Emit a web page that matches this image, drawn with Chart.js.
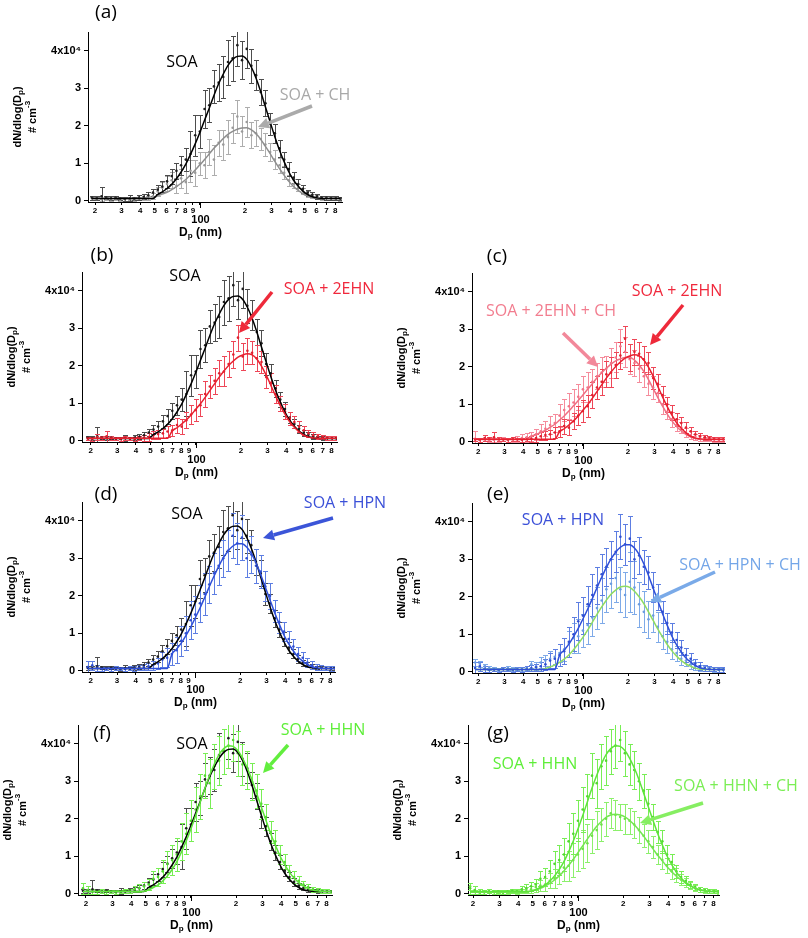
<!DOCTYPE html>
<html>
<head>
<meta charset="utf-8">
<script src="https://cdn.jsdelivr.net/npm/chart.js@4.4.1/dist/chart.umd.min.js"></script>
<style>
  body { margin: 0; background: #fff; width: 808px; height: 938px; overflow: hidden; position: relative; }
  .wrap { position: absolute; }
  canvas { display: block; }
</style>
</head>
<body>
<div class="wrap"><canvas id="ca"></canvas></div>
<div class="wrap"><canvas id="cb"></canvas></div>
<div class="wrap"><canvas id="cc"></canvas></div>
<div class="wrap"><canvas id="cd"></canvas></div>
<div class="wrap"><canvas id="ce"></canvas></div>
<div class="wrap"><canvas id="cf"></canvas></div>
<div class="wrap"><canvas id="cg"></canvas></div>
<script>
// particle diameter bins, nm
var diameters = [19.1,20.5,22.1,23.7,25.5,27.4,29.4,31.6,34.0,36.5,39.2,42.2,45.3,48.7,52.3,56.2,60.4,64.9,69.8,75.0,
  80.6,86.6,93.1,100,107.5,115.5,124.1,133.4,143.3,154.0,165.5,177.8,191.1,205.4,220.7,237.1,254.8,273.8,294.3,316.2,
  339.8,365.2,392.4,421.7,453.2,487.0,523.3,562.3,604.3,649.4,697.9,749.9,805.9,866.0];

var xTickValues = [20,30,40,50,60,70,80,90,100,200,300,400,500,600,700,800];
var yTickValues = [0,1,2,3,4];
var yTickLabels = ['0','1','2','3','4x10\u2074'];

// dN/dlog(Dp) in units of 1e4 cm-3
var soaVal = [0.08,0.07,0.12,0.09,0.07,0.08,0.06,0.05,0.07,0.06,
  0.09,0.11,0.15,0.22,0.30,0.38,0.52,0.66,0.80,0.95,
  1.10,1.25,1.75,1.85,2.45,2.55,3.05,3.15,3.30,3.70,
  3.80,4.15,3.75,4.05,3.60,3.35,2.90,2.60,2.05,1.80,
  1.40,1.10,0.85,0.62,0.45,0.32,0.22,0.16,0.12,0.09,
  0.08,0.07,0.07,0.06];
var soaErr = [0.05,0.05,0.25,0.05,0.05,0.04,0.04,0.05,0.08,0.05,
  0.06,0.07,0.08,0.10,0.12,0.15,0.18,0.20,0.22,0.25,
  0.30,0.60,0.55,0.45,0.50,0.45,0.45,0.50,0.55,0.60,
  0.60,0.55,0.50,0.50,0.45,0.40,0.35,0.35,0.30,0.25,
  0.22,0.20,0.18,0.15,0.12,0.10,0.08,0.07,0.06,0.05,
  0.05,0.05,0.05,0.05];
var soaFit = [0.06,0.06,0.06,0.06,0.06,0.06,0.06,0.06,0.06,0.06,0.06,0.06,0.06,0.06,
  0.17,0.24,0.33,0.44,0.59,0.77,0.98,1.24,1.52,1.82,
  2.15,2.47,2.81,3.12,3.38,3.61,3.77,3.85,3.86,3.77,
  3.56,3.27,2.91,2.50,2.10,1.71,1.35,1.04,0.77,0.55,
  0.39,0.26,0.17,0.11,0.08,0.07,0.06,0.06,0.06,0.06];

var chVal = [0.06,0.05,0.04,0.05,0.04,0.05,0.03,0.04,0.05,0.04,
  0.06,0.05,0.08,0.12,0.25,0.35,0.45,0.55,0.40,0.60,
  0.50,0.80,0.75,1.00,0.95,1.30,1.10,1.55,1.50,1.70,
  1.95,2.25,1.85,2.10,1.75,1.80,1.65,1.50,1.30,1.10,
  0.95,0.75,0.55,0.45,0.35,0.25,0.18,0.13,0.10,0.08,
  0.07,0.06,0.06,0.05];
var chErr = [0.04,0.04,0.04,0.04,0.04,0.04,0.04,0.04,0.04,0.04,
  0.04,0.04,0.06,0.08,0.12,0.15,0.20,0.22,0.20,0.25,
  0.30,0.30,0.35,0.30,0.35,0.35,0.40,0.35,0.40,0.45,
  0.40,0.45,0.40,0.40,0.35,0.35,0.30,0.30,0.25,0.25,
  0.20,0.18,0.15,0.12,0.10,0.08,0.07,0.05,0.05,0.05,
  0.05,0.05,0.05,0.05];
var chFit = [0.06,0.06,0.06,0.06,0.06,0.06,0.06,0.06,0.06,0.06,0.06,0.06,0.06,0.06,
  0.14,0.18,0.23,0.30,0.38,0.47,0.57,0.69,0.82,0.96,
  1.10,1.25,1.40,1.53,1.66,1.77,1.85,1.91,1.94,1.95,
  1.89,1.79,1.64,1.45,1.26,1.05,0.86,0.68,0.52,0.38,
  0.28,0.19,0.13,0.09,0.07,0.06,0.06,0.06,0.06,0.06];

var ehnVal = [0.06,0.05,0.10,0.08,0.12,0.07,0.06,0.05,0.08,0.06,
  0.05,0.07,0.08,0.10,0.15,0.18,0.20,0.25,0.28,0.42,
  0.38,0.55,0.70,0.82,0.95,1.25,1.45,1.60,1.80,1.85,
  2.05,2.30,2.75,2.25,2.40,2.35,2.20,2.10,1.70,1.55,
  1.25,1.00,0.78,0.60,0.50,0.38,0.28,0.20,0.15,0.12,
  0.10,0.08,0.07,0.07];
var ehnErr = [0.05,0.05,0.08,0.06,0.15,0.05,0.05,0.05,0.06,0.05,
  0.05,0.06,0.08,0.10,0.10,0.12,0.12,0.15,0.15,0.20,
  0.20,0.22,0.25,0.30,0.30,0.35,0.30,0.35,0.35,0.40,
  0.35,0.35,0.35,0.35,0.35,0.30,0.35,0.30,0.30,0.25,
  0.25,0.20,0.20,0.18,0.15,0.15,0.12,0.10,0.08,0.07,
  0.06,0.06,0.05,0.05];
var ehnFit = [0.07,0.07,0.07,0.07,0.07,0.07,0.07,0.07,0.07,0.07,0.07,0.07,0.07,0.07,0.07,0.07,0.07,0.07,
  0.27,0.35,0.45,0.56,0.69,0.84,0.99,1.16,1.34,1.52,
  1.70,1.86,2.01,2.13,2.23,2.29,2.32,2.29,2.18,1.99,
  1.75,1.48,1.20,0.94,0.71,0.51,0.36,0.24,0.15,0.10,
  0.08,0.07,0.07,0.07,0.07,0.07];

var ehnChVal = [0.08,0.05,0.06,0.04,0.05,0.06,0.07,0.05,0.06,0.08,
  0.10,0.12,0.15,0.20,0.28,0.35,0.45,0.50,0.70,0.85,
  0.95,1.05,1.20,1.40,1.45,1.60,1.75,1.85,1.95,2.10,
  2.25,2.55,2.40,2.20,2.10,1.95,1.75,1.55,1.45,1.30,
  1.00,0.80,0.60,0.45,0.38,0.25,0.18,0.14,0.10,0.08,
  0.07,0.06,0.06,0.06];
var ehnChErr = [0.20,0.05,0.05,0.05,0.05,0.06,0.06,0.06,0.07,0.08,
  0.10,0.12,0.12,0.15,0.20,0.20,0.25,0.25,0.30,0.30,
  0.35,0.35,0.35,0.35,0.40,0.35,0.35,0.40,0.35,0.40,
  0.40,0.45,0.40,0.40,0.35,0.35,0.30,0.30,0.30,0.25,
  0.25,0.20,0.20,0.15,0.15,0.12,0.10,0.08,0.07,0.06,
  0.06,0.06,0.06,0.06];
var ehnChFit = [0.06,0.06,0.06,0.06,0.06,0.06,0.06,0.06,0.06,0.06,0.06,0.06,
  0.15,0.19,0.25,0.31,0.39,0.47,0.58,0.69,0.82,0.96,
  1.10,1.25,1.40,1.55,1.71,1.84,1.96,2.07,2.16,2.21,
  2.25,2.25,2.18,2.05,1.88,1.66,1.42,1.18,0.95,0.74,
  0.56,0.41,0.29,0.20,0.13,0.09,0.07,0.06,0.06,0.06,
  0.06,0.06];

var hpnVal = [0.10,0.15,0.08,0.05,0.06,0.05,0.07,0.06,0.05,0.07,
  0.06,0.08,0.10,0.12,0.15,0.20,0.30,0.35,0.45,0.55,
  0.80,1.00,1.35,1.50,1.80,2.05,2.30,2.60,2.80,3.00,
  3.20,3.60,3.40,3.55,3.00,3.10,2.80,2.65,2.25,2.00,
  1.60,1.30,1.05,0.85,0.65,0.45,0.35,0.22,0.15,0.10,
  0.08,0.07,0.06,0.06];
var hpnErr = [0.15,0.12,0.08,0.05,0.05,0.05,0.06,0.05,0.05,0.06,
  0.06,0.07,0.08,0.10,0.12,0.15,0.20,0.25,0.30,0.35,
  0.40,0.45,0.50,0.50,0.50,0.55,0.50,0.55,0.50,0.50,
  0.55,0.60,0.55,0.60,0.50,0.50,0.45,0.45,0.40,0.35,
  0.30,0.28,0.25,0.22,0.20,0.18,0.15,0.12,0.10,0.08,
  0.07,0.06,0.06,0.06];
var hpnFit = [0.06,0.06,0.06,0.06,0.06,0.06,0.06,0.06,0.06,0.06,0.06,0.06,0.06,0.06,0.06,0.06,0.06,0.06,
  0.44,0.58,0.74,0.94,1.16,1.41,1.67,1.95,2.24,2.52,
  2.78,3.01,3.19,3.32,3.39,3.39,3.30,3.13,2.88,2.57,
  2.23,1.89,1.55,1.24,0.95,0.72,0.53,0.37,0.26,0.17,
  0.11,0.08,0.07,0.06,0.06,0.06];

var hpnChVal = [0.25,0.22,0.15,0.10,0.08,0.06,0.08,0.10,0.07,0.09,
  0.08,0.10,0.20,0.15,0.25,0.30,0.35,0.40,0.50,0.60,
  0.75,0.90,0.95,1.10,1.25,1.45,1.70,1.90,2.20,2.35,
  2.50,2.20,2.05,2.40,2.25,1.80,1.60,1.40,1.50,1.20,
  0.95,0.80,0.60,0.50,0.35,0.30,0.20,0.15,0.10,0.08,
  0.07,0.06,0.05,0.05];
var hpnChErr = [0.10,0.08,0.06,0.05,0.05,0.05,0.05,0.05,0.05,0.05,
  0.06,0.06,0.10,0.10,0.15,0.15,0.20,0.20,0.25,0.30,
  0.35,0.40,0.45,0.45,0.50,0.50,0.55,0.60,0.60,0.65,
  0.65,0.60,0.60,0.80,0.70,0.60,0.55,0.50,0.45,0.40,
  0.35,0.30,0.25,0.20,0.18,0.15,0.12,0.10,0.08,0.07,
  0.06,0.06,0.05,0.05];
var hpnChFit = [0.06,0.06,0.06,0.06,0.06,0.06,0.06,0.06,0.06,0.06,0.06,0.06,0.06,0.06,0.06,
  0.09,0.13,0.18,0.25,0.34,0.45,0.59,0.75,0.92,1.11,
  1.32,1.53,1.73,1.91,2.07,2.18,2.26,2.28,2.25,2.15,
  2.00,1.82,1.60,1.37,1.14,0.93,0.73,0.56,0.42,0.30,
  0.21,0.15,0.10,0.07,0.06,0.06,0.06,0.06,0.06];

var hhnVal = [0.15,0.10,0.06,0.05,0.07,0.05,0.06,0.04,0.06,0.08,
  0.07,0.12,0.15,0.20,0.25,0.40,0.45,0.60,0.80,0.90,
  1.05,1.40,1.60,1.95,2.25,2.60,3.15,2.95,3.40,3.55,
  3.80,3.95,4.10,3.75,3.45,3.30,3.00,2.75,2.40,2.05,
  1.65,1.40,1.05,0.85,0.60,0.45,0.35,0.25,0.18,0.12,
  0.10,0.08,0.07,0.06];
var hhnErr = [0.15,0.10,0.06,0.05,0.05,0.05,0.05,0.05,0.05,0.06,
  0.06,0.08,0.10,0.12,0.15,0.20,0.25,0.30,0.35,0.40,
  0.45,0.50,0.55,0.55,0.60,0.60,0.60,0.65,0.60,0.65,
  0.60,0.60,0.55,0.60,0.55,0.50,0.50,0.45,0.40,0.35,
  0.30,0.30,0.25,0.20,0.18,0.15,0.12,0.10,0.08,0.07,
  0.06,0.06,0.05,0.05];
var hhnFit = [0.06,0.06,0.06,0.06,0.06,0.06,0.06,0.06,0.06,0.06,0.06,0.06,0.06,
  0.07,0.11,0.17,0.24,0.34,0.48,0.65,0.86,1.12,1.41,
  1.73,2.08,2.45,2.82,3.16,3.46,3.71,3.87,3.95,3.93,
  3.82,3.62,3.36,3.05,2.69,2.32,1.96,1.61,1.30,1.01,
  0.78,0.58,0.42,0.30,0.21,0.14,0.10,0.08,0.07,0.06,
  0.06];

var hhnChVal = [0.20,0.05,0.03,0.04,0.03,0.05,0.04,0.03,0.05,0.06,
  0.05,0.08,0.10,0.12,0.18,0.22,0.25,0.35,0.40,0.55,
  0.70,0.75,0.90,1.05,1.20,1.35,1.55,1.70,1.85,2.00,
  2.15,2.10,2.05,2.00,1.95,1.85,1.70,1.55,1.40,1.25,
  1.05,0.90,0.75,0.60,0.50,0.38,0.30,0.22,0.15,0.12,
  0.09,0.07,0.06,0.05];
var hhnChErr = [0.10,0.05,0.05,0.05,0.05,0.05,0.05,0.05,0.05,0.05,
  0.05,0.05,0.08,0.10,0.12,0.15,0.18,0.20,0.25,0.30,
  0.35,0.40,0.45,0.45,0.50,0.50,0.45,0.50,0.45,0.45,
  0.40,0.40,0.35,0.40,0.35,0.35,0.35,0.30,0.30,0.30,
  0.25,0.25,0.20,0.20,0.18,0.15,0.12,0.10,0.08,0.07,
  0.06,0.05,0.05,0.05];
var hhnChFit = [0.04,0.04,0.04,0.04,0.04,0.04,0.04,0.04,0.04,0.04,0.04,0.04,
  0.05,0.08,0.11,0.15,0.21,0.28,0.37,0.48,0.61,0.76,
  0.92,1.10,1.28,1.46,1.64,1.80,1.93,2.04,2.10,2.12,
  2.10,2.05,1.96,1.84,1.70,1.54,1.37,1.20,1.03,0.88,
  0.72,0.59,0.47,0.37,0.29,0.22,0.16,0.12,0.09,0.07,
  0.06,0.05];

var AXIS_FONT = '"Liberation Sans", Arial, sans-serif';
var NOTE_FONT = '"Open Sans", "Noto Sans", sans-serif';
var PAD_TOP = 32;

var soa    = {val: soaVal,   err: soaErr,   fit: soaFit,   point: '#1e1e1e', bar: '#4d4d4d', line: '#000000'};
var ch     = {val: chVal,    err: chErr,    fit: chFit,    point: '#9a9a9a', bar: '#adadad', line: '#8e8e8e'};
var ehn    = {val: ehnVal,   err: ehnErr,   fit: ehnFit,   point: '#e0202f', bar: '#ee4657', line: '#e8202f'};
var ehnCh  = {val: ehnChVal, err: ehnChErr, fit: ehnChFit, point: '#f27589', bar: '#f58c9c', line: '#f07083'};
var hpn    = {val: hpnVal,   err: hpnErr,   fit: hpnFit,   point: '#2f4fd2', bar: '#5d7ee2', line: '#2f4fd8'};
var hpnCh  = {val: hpnChVal, err: hpnChErr, fit: hpnChFit, point: '#6a9ce0', bar: '#7eaae8', line: '#8fdc62'};
var hhn    = {val: hhnVal,   err: hhnErr,   fit: hhnFit,   point: '#52d830', bar: '#78ee55', line: '#5fe43c'};
var hhnCh  = {val: hhnChVal, err: hhnChErr, fit: hhnChFit, point: '#6ee048', bar: '#8cf06c', line: '#74e650'};

// L/R/T: chart area left, right, top on the page
var panels = [
  {key: 'a', L: 88, R: 342, T: 32, xMin: 17.95, xMax: 887, cr: 385, series: [ch, soa],
   texts: [['(a)', 106, 13, '#000', 19], ['SOA', 182, 62, '#000', 16], ['SOA + CH', 315, 95, '#a8a8a8', 16]],
   arrows: [[312, 106, 258, 127, '#aaaaaa']]},
  {key: 'b', L: 82, R: 337, T: 272, xMin: 17.5, xMax: 871, cr: 385, series: [soa, ehn],
   texts: [['(b)', 102, 256, '#000', 19], ['SOA', 185, 276, '#000', 16], ['SOA + 2EHN', 329, 289, '#f0283c', 16]],
   arrows: [[272, 292, 239, 333, '#ee2a3a']]},
  {key: 'c', L: 472, R: 725, T: 273, xMin: 18.2, xMax: 887, cr: 808, series: [ehnCh, ehn],
   texts: [['(c)', 497, 257, '#000', 19], ['SOA + 2EHN', 677, 291, '#f0283c', 16], ['SOA + 2EHN + CH', 551, 311, '#f27d8f', 16]],
   arrows: [[683, 305, 650, 345, '#ee2a3a'], [563, 333, 598, 367, '#f2889a']]},
  {key: 'd', L: 82, R: 335, T: 502, xMin: 17.5, xMax: 860, cr: 385, series: [soa, hpn],
   texts: [['(d)', 106, 495, '#000', 19], ['SOA', 187, 514, '#000', 16], ['SOA + HPN', 345, 503, '#3b50d8', 16]],
   arrows: [[333, 518, 263, 538, '#3b55d8']]},
  {key: 'e', L: 472, R: 725, T: 503, xMin: 18.2, xMax: 887, cr: 808, series: [hpnCh, hpn],
   texts: [['(e)', 498, 495, '#000', 19], ['SOA + HPN', 563, 520, '#3b50d8', 16], ['SOA + HPN + CH', 740, 565, '#74a6e8', 16]],
   arrows: [[715, 572, 650, 602, '#7aaae8']]},
  {key: 'f', L: 78, R: 332, T: 725, xMin: 17.7, xMax: 871, cr: 385, series: [soa, hhn],
   texts: [['(f)', 102, 734, '#000', 19], ['SOA', 192, 744, '#000', 16], ['SOA + HHN', 323, 730, '#5eee38', 16]],
   arrows: [[288, 745, 263, 773, '#62ee3e']]},
  {key: 'g', L: 468, R: 719, T: 725, xMin: 18.5, xMax: 871, cr: 808, series: [hhnCh, hhn],
   texts: [['(g)', 498, 734, '#000', 19], ['SOA + HHN', 535, 764, '#5eee38', 16], ['SOA + HHN + CH', 736, 786, '#7bee55', 16]],
   arrows: [[703, 803, 640, 823, '#86ee62']]}
];

// draws a line of text with one sub/superscript run, centred on cx
function richText(ctx, parts, cx, cy) {
  var total = 0;
  parts.forEach(function (p) { ctx.font = 'bold ' + p[1] + 'px ' + AXIS_FONT; total += ctx.measureText(p[0]).width; });
  var x = cx - total / 2;
  ctx.textAlign = 'left';
  ctx.textBaseline = 'middle';
  parts.forEach(function (p) {
    ctx.font = 'bold ' + p[1] + 'px ' + AXIS_FONT;
    ctx.fillText(p[0], x, cy + p[2]);
    x += ctx.measureText(p[0]).width;
  });
}

var extras = {
  id: 'extras',
  beforeDatasetsDraw: function (chart) {
    var p = chart.options.plugins.extras;
    var ctx = chart.ctx, xs = chart.scales.x, ys = chart.scales.y, a = chart.chartArea;
    ctx.save();
    ctx.beginPath();
    ctx.rect(a.left, a.top, a.right - a.left, a.bottom - a.top);
    ctx.clip();
    ctx.lineWidth = 1;
    p.series.forEach(function (s) {
      ctx.strokeStyle = s.bar;
      ctx.beginPath();
      diameters.forEach(function (d, i) {
        var px = Math.round(xs.getPixelForValue(d)) + 0.5;
        var lo = Math.round(ys.getPixelForValue(s.val[i] - s.err[i])) + 0.5;
        var hi = Math.round(ys.getPixelForValue(s.val[i] + s.err[i])) + 0.5;
        ctx.moveTo(px, lo); ctx.lineTo(px, hi);
        ctx.moveTo(px - 2.5, lo); ctx.lineTo(px + 2.5, lo);
        ctx.moveTo(px - 2.5, hi); ctx.lineTo(px + 2.5, hi);
      });
      ctx.stroke();
    });
    ctx.restore();
  },
  afterDraw: function (chart) {
    var p = chart.options.plugins.extras;
    var ctx = chart.ctx, xs = chart.scales.x, a = chart.chartArea;
    var ox = p.L - 86, oy = p.T - PAD_TOP;
    ctx.save();
    ctx.fillStyle = '#000';
    ctx.strokeStyle = '#000';
    ctx.lineWidth = 1;
    // long tick and labels at 100 nm
    var x100 = Math.round(xs.getPixelForValue(100)) + 0.5;
    ctx.beginPath(); ctx.moveTo(x100, a.bottom); ctx.lineTo(x100, a.bottom + 6); ctx.stroke();
    richText(ctx, [['100', 11, 0]], x100, a.bottom + 18);
    richText(ctx, [['D', 12, 0], ['p', 8, 3], [' (nm)', 12, 0]], x100, a.bottom + 31);
    // y title, two rotated lines
    var mid = (a.top + a.bottom) / 2;
    ctx.save();
    ctx.translate(a.left - 70, mid);
    ctx.rotate(-Math.PI / 2);
    richText(ctx, [['dN/dlog(D', 11, 0], ['p', 8, 3], [')', 11, 0]], 0, 0);
    ctx.restore();
    ctx.save();
    ctx.translate(a.left - 55, mid);
    ctx.rotate(-Math.PI / 2);
    richText(ctx, [['# cm', 11, 0], ['-3', 8, -5]], 0, 0);
    ctx.restore();
    // arrows
    p.arrows.forEach(function (ar) {
      var x1 = ar[0] - ox, y1 = ar[1] - oy, x2 = ar[2] - ox, y2 = ar[3] - oy;
      var ang = Math.atan2(y2 - y1, x2 - x1), hl = 11, hw = 5.5;
      var bx = x2 - hl * Math.cos(ang), by = y2 - hl * Math.sin(ang);
      ctx.strokeStyle = ar[4];
      ctx.fillStyle = ar[4];
      ctx.lineWidth = 3.5;
      ctx.beginPath(); ctx.moveTo(x1, y1); ctx.lineTo(bx, by); ctx.stroke();
      ctx.beginPath();
      ctx.moveTo(x2, y2);
      ctx.lineTo(bx + hw * Math.sin(ang), by - hw * Math.cos(ang));
      ctx.lineTo(bx - hw * Math.sin(ang), by + hw * Math.cos(ang));
      ctx.closePath();
      ctx.fill();
    });
    // panel letters and series names
    ctx.textAlign = 'center';
    ctx.textBaseline = 'middle';
    p.texts.forEach(function (t) {
      ctx.fillStyle = t[3];
      ctx.font = t[4] + 'px ' + NOTE_FONT;
      ctx.fillText(t[0], t[1] - ox, t[2] - oy);
    });
    ctx.restore();
  }
};

panels.forEach(function (p) {
  var canvas = document.getElementById('c' + p.key);
  var left = p.L - 86, top = p.T - PAD_TOP;
  var w = p.cr - left, h = PAD_TOP + 170 + 48;
  canvas.parentNode.style.left = left + 'px';
  canvas.parentNode.style.top = top + 'px';
  canvas.width = w; canvas.height = h;
  canvas.style.width = w + 'px'; canvas.style.height = h + 'px';

  var datasets = [];
  p.series.forEach(function (s, k) {
    datasets.push({
      data: diameters.map(function (d, i) { return {x: d, y: s.val[i]}; }),
      showLine: false,
      pointRadius: 1.3,
      pointBorderWidth: 0,
      pointBackgroundColor: s.point,
      order: 50 - k
    });
  });
  p.series.forEach(function (s, k) {
    datasets.push({
      data: diameters.map(function (d, i) { return {x: d, y: s.fit[i]}; }),
      showLine: true,
      pointRadius: 0,
      borderColor: s.line,
      borderWidth: 1.5,
      cubicInterpolationMode: 'monotone',
      order: 10 - k
    });
  });

  new Chart(canvas.getContext('2d'), {
    type: 'scatter',
    data: {datasets: datasets},
    plugins: [extras],
    options: {
      responsive: false,
      animation: false,
      events: [],
      layout: {padding: {left: 0, top: PAD_TOP, right: p.cr - p.R, bottom: 0}},
      plugins: {
        legend: {display: false},
        tooltip: {enabled: false},
        extras: p
      },
      scales: {
        x: {
          type: 'logarithmic',
          min: p.xMin,
          max: p.xMax,
          afterBuildTicks: function (sc) { sc.ticks = xTickValues.map(function (v) { return {value: v}; }); },
          afterFit: function (sc) { sc.height = 48; },
          ticks: {
            autoSkip: false, maxRotation: 0, padding: 1, color: '#000',
            font: {family: AXIS_FONT, size: 8, weight: 'bold'},
            callback: function (v) { return v === 100 ? '' : String(v).charAt(0); }
          },
          grid: {drawOnChartArea: false, tickLength: 3, color: '#000'},
          border: {color: '#000', width: 1}
        },
        y: {
          min: -0.03,
          max: 4.5,
          afterBuildTicks: function (sc) { sc.ticks = yTickValues.map(function (v) { return {value: v}; }); },
          afterFit: function (sc) { sc.width = 86; },
          ticks: {
            padding: 3, color: '#000',
            font: {family: AXIS_FONT, size: 11, weight: 'bold'},
            callback: function (v) { return yTickLabels[yTickValues.indexOf(v)]; }
          },
          grid: {drawOnChartArea: false, tickLength: 4, color: '#000'},
          border: {color: '#000', width: 1}
        }
      }
    }
  });
});
</script>
</body>
</html>
